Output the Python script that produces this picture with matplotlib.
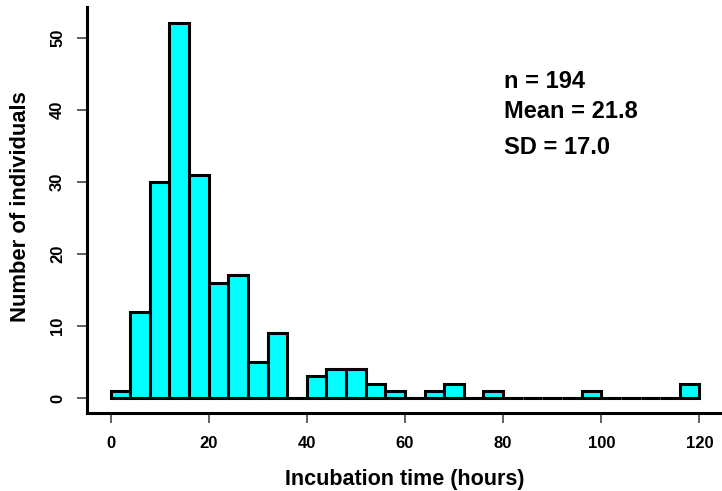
import numpy as np
import matplotlib
matplotlib.use("Agg")
import matplotlib.pyplot as plt

plt.rcParams['font.family'] = ['Liberation Sans', 'DejaVu Sans']
plt.rcParams['font.weight'] = 'bold'

# bin edges (hours) and counts
bin_edges = np.arange(0, 124, 4)
counts = [1, 12, 30, 52, 31, 16, 17, 5, 9, 0,
          3, 4, 4, 2, 1, 0, 1, 2, 0, 1,
          0, 0, 0, 0, 1, 0, 0, 0, 0, 2]
xticks = [0, 20, 40, 60, 80, 100, 120]
yticks = [0, 10, 20, 30, 40, 50]
stats_lines = ["n = 194", "Mean = 21.8", "SD = 17.0"]

W, H = 722, 491
fig = plt.figure(figsize=(W / 100, H / 100), dpi=100)
ax = fig.add_axes([87.3 / W, (H - 413.3) / H, (W - 87.3) / W, (413.3 - 7.3) / H])

ax.bar(bin_edges[:-1], counts, width=4, align='edge',
       color='#00FFFF', edgecolor='black', linewidth=2.2)

ax.set_xlim(-4.73, 124.6)
ax.set_ylim(-2.12, 54.2)

for s in ['top', 'right']:
    ax.spines[s].set_visible(False)
for s in ['left', 'bottom']:
    ax.spines[s].set_linewidth(2.2)

ax.set_xticks(xticks)
ax.set_yticks(yticks)
ax.tick_params(axis='both', direction='out', length=7, width=1.2,
               color='#444444', labelsize=12, pad=9)
ax.tick_params(axis='y', labelrotation=90)
for lab in ax.get_yticklabels():
    lab.set_verticalalignment('center')
    lab.set_fontweight('bold')
for lab in ax.get_xticklabels():
    lab.set_fontweight('bold')

ax.set_xlabel("Incubation time (hours)", fontsize=15.5, fontweight='bold', va='center')
ax.set_ylabel("Number of individuals", fontsize=15.8, fontweight='bold', va='center')
ax.xaxis.set_label_coords(0.5, -0.163)
ax.yaxis.set_label_coords(-0.105, 0.51)

ys = [81, 111, 147]
for txt, ypx in zip(stats_lines, ys):
    fig.text(504 / W, 1 - ypx / H, txt, fontsize=17, fontweight='bold',
             ha='left', va='center')

fig.savefig("out.png", dpi=100)
